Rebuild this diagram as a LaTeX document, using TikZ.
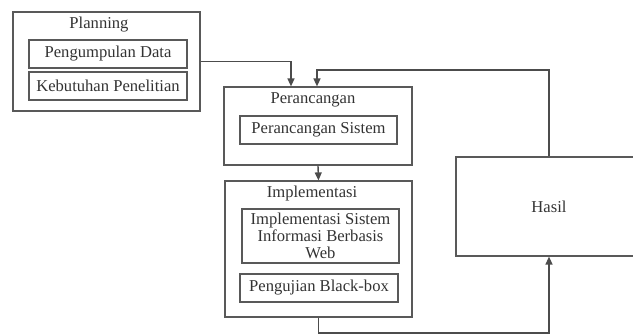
\documentclass[tikz,border=0pt]{standalone}
\usepackage{fontspec}
\setmainfont{Liberation Serif}
\usetikzlibrary{arrows.meta}
\begin{document}
\begin{tikzpicture}[x=0.5pt,y=-0.5pt,
  box/.style={draw=black!65, line width=0.6pt, inner sep=0pt, align=center,
    font=\fontsize{8.3}{8.6}\selectfont, text=black!80},
  lbl/.style={inner sep=0pt, font=\fontsize{8.3}{8.6}\selectfont, text=black!80},
  arr/.style={draw=black!70, line width=0.7pt, -{Triangle[length=4pt,width=3.5pt]}},
  ln/.style={draw=black!70, line width=0.7pt}]
\useasboundingbox (0,0) rectangle (633,334);
\clip (0,0) rectangle (633,334);
% Planning
\node[box, minimum width=93.5pt, minimum height=49.5pt] (plan) at (106.5,61.5) {};
\node[lbl] (planlbl) at (99,25) {Planning};
\node[box, minimum width=79pt, minimum height=14pt] (pd) at (108,54) {Pengumpulan Data};
\node[box, minimum width=79pt, minimum height=14pt] (kp) at (108,86) {Kebutuhan Penelitian};
% Perancangan
\node[box, minimum width=94pt, minimum height=39pt] (per) at (318,126) {};
\node[lbl] (perlbl) at (313,100) {Perancangan};
\node[box, minimum width=78.5pt, minimum height=14pt] (ps) at (318.5,130) {Perancangan Sistem};
% Implementasi
\node[box, minimum width=93.5pt, minimum height=68pt] (imp) at (318.5,249) {};
\node[lbl] (implbl) at (312,193) {Implementasi};
\node[box, minimum width=78.5pt, minimum height=27pt] (isi) at (320.5,236) {Implementasi Sistem\\Informasi Berbasis\\Web};
\node[box, minimum width=79pt, minimum height=14pt] (pb) at (319,288) {Pengujian Black-box};
% Hasil
\node[box, minimum width=93pt, minimum height=49.5pt] (hasil) at (549,206.5) {Hasil};
% connectors
\coordinate (pa) at (291,61.5);
\coordinate (fb) at (317,70);
\coordinate (bt) at (319,333);
\draw[arr] (plan.east) -- (pa) -- (pa |- per.north);
\draw[arr] (hasil.north) |- (fb) -- (fb |- per.north);
\draw[arr] (per.south) -- (imp.north);
\draw[arr] (imp.south) -- (imp.south |- bt) -| (hasil.south);
\end{tikzpicture}
\end{document}
